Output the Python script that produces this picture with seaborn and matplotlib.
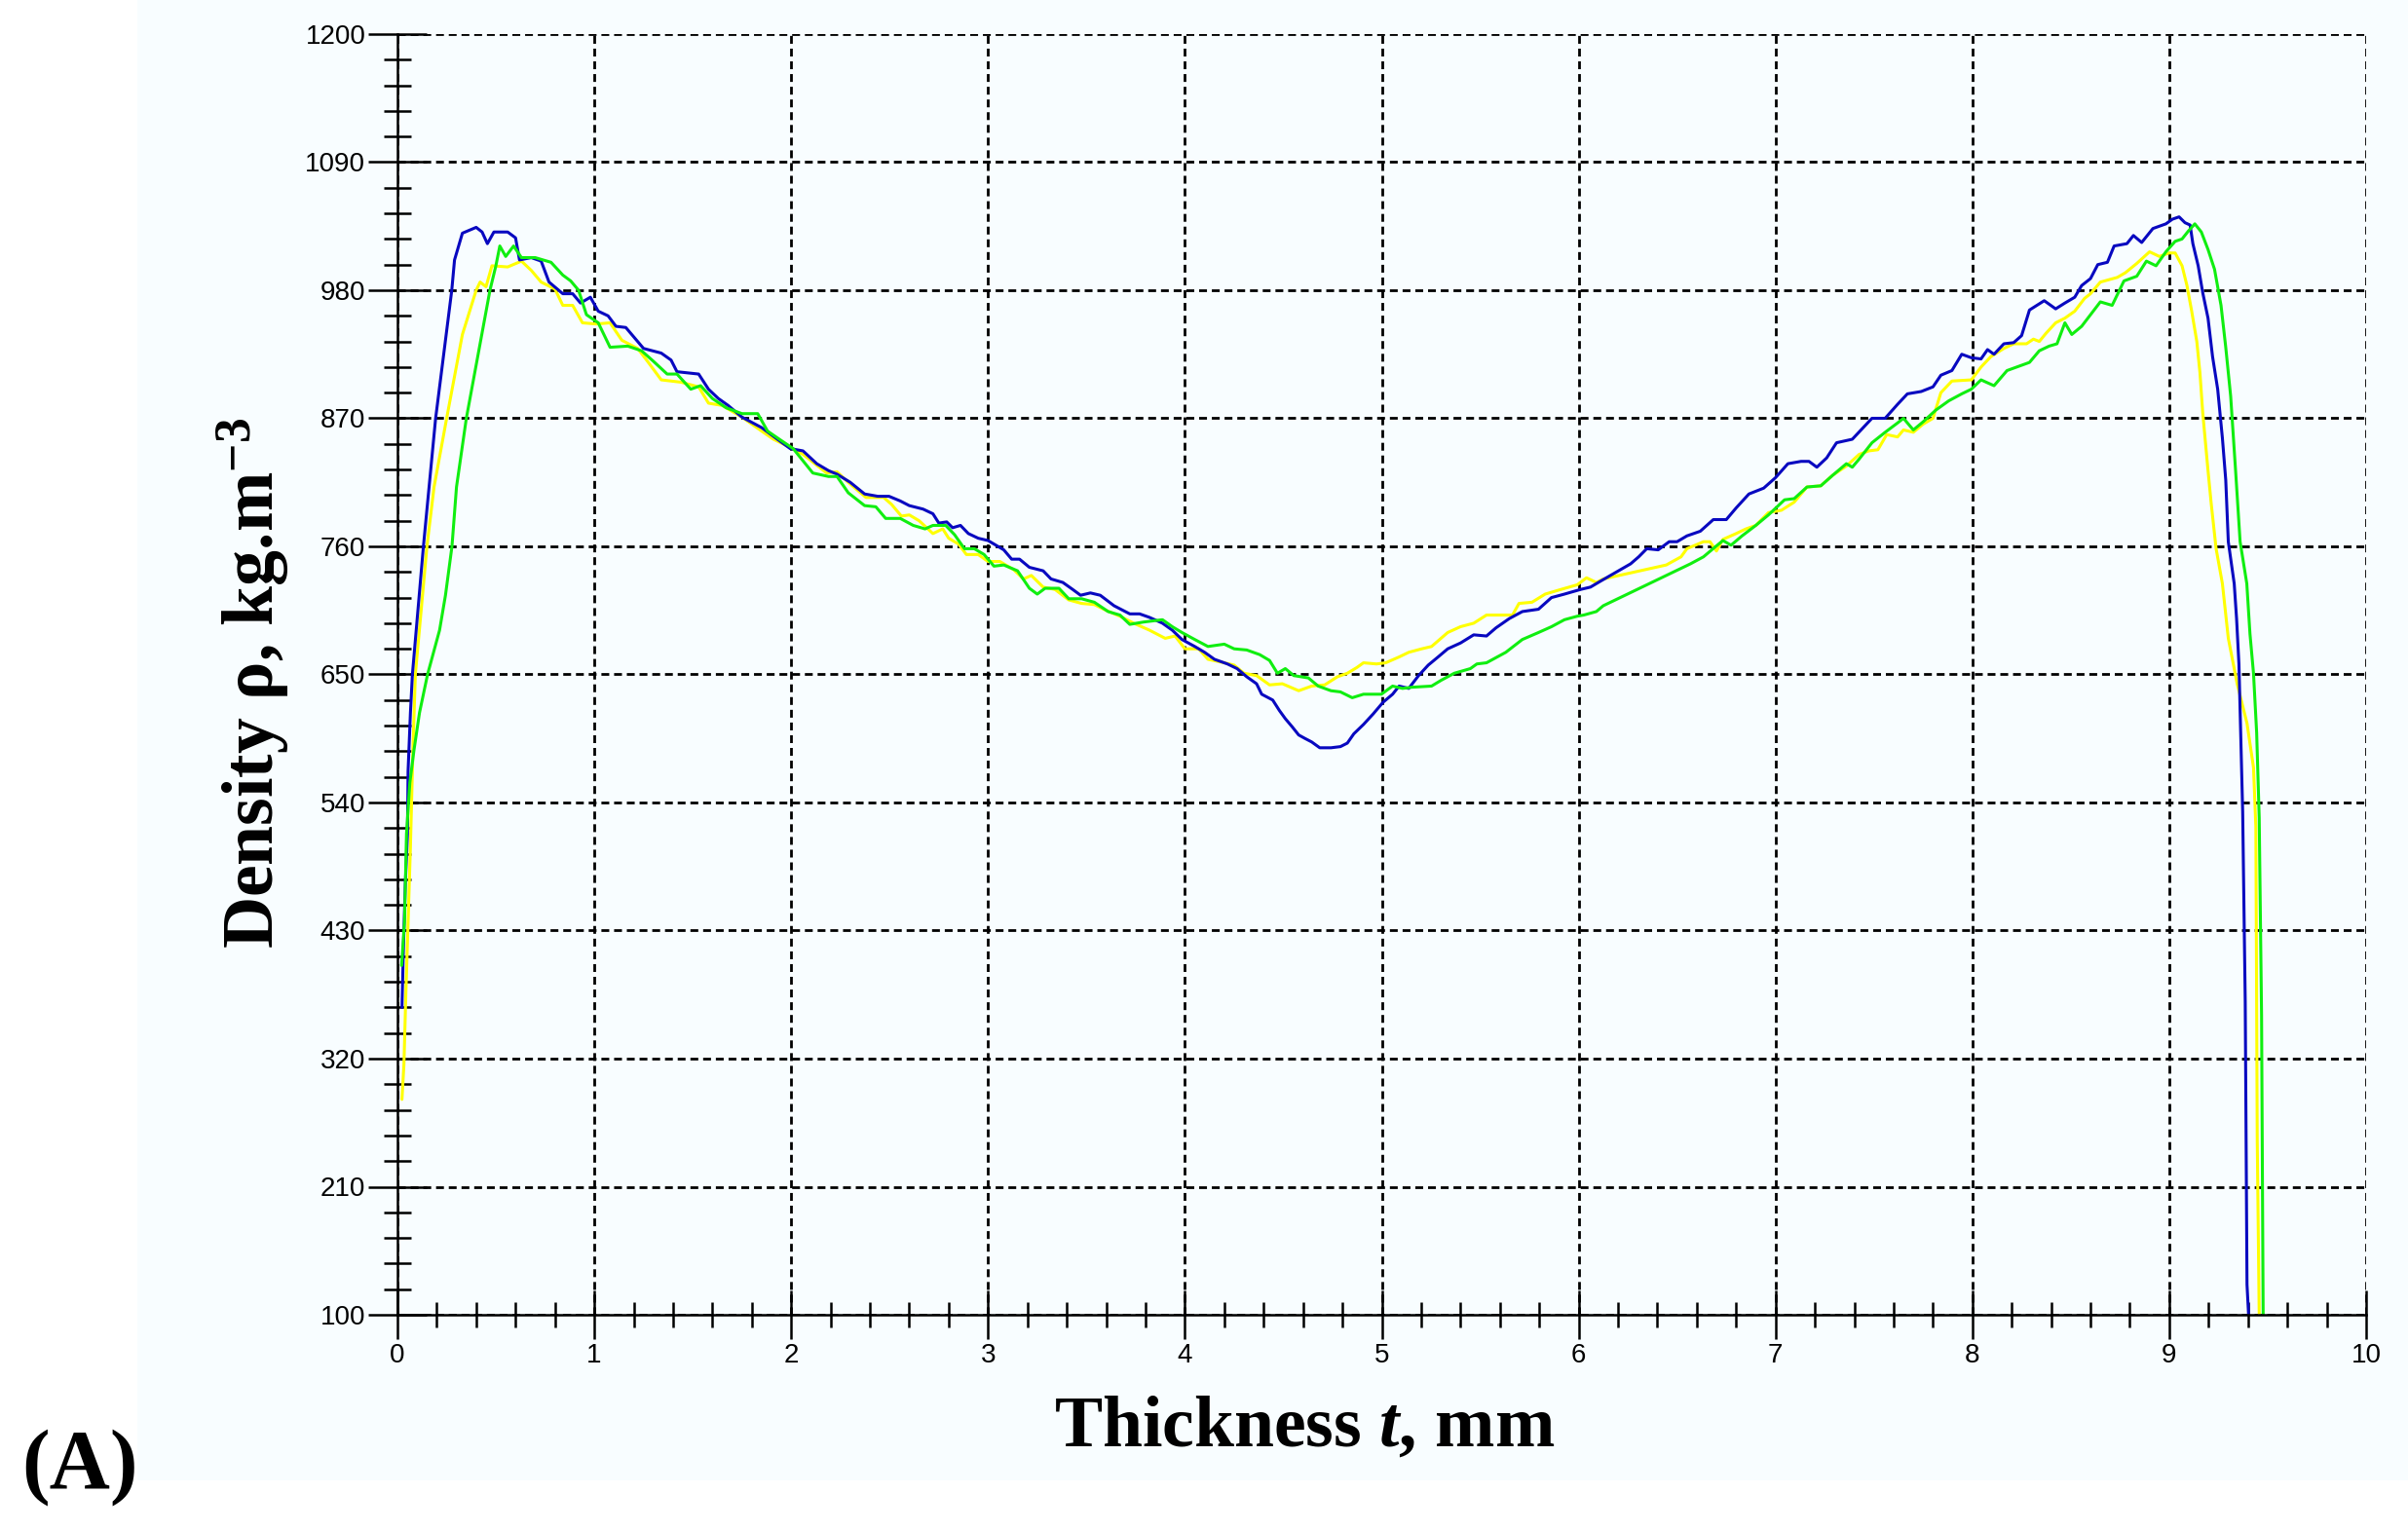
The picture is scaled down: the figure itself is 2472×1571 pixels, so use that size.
import numpy as np
import pandas as pd
import matplotlib
matplotlib.use("Agg")
import matplotlib.pyplot as plt
from matplotlib.patches import Rectangle
from matplotlib.ticker import FixedLocator
import seaborn as sns

sns.set_style("ticks")
plt.rcParams["font.family"] = ["Liberation Sans Narrow", "Liberation Sans", "DejaVu Sans"]
plt.rcParams["text.color"] = "black"
plt.rcParams["axes.labelcolor"] = "black"
plt.rcParams["xtick.color"] = "black"
plt.rcParams["ytick.color"] = "black"
plt.rcParams["mathtext.fontset"] = "custom"
plt.rcParams["mathtext.rm"] = "Liberation Serif:bold"
plt.rcParams["mathtext.bf"] = "Liberation Serif:bold"
plt.rcParams["mathtext.it"] = "Liberation Serif:bold:italic"

# density profiles (thickness in mm, density in kg/m3)
blue_t = [0.023, 0.030, 0.040, 0.051, 0.054, 0.066, 0.076, 0.132, 0.161, 0.194, 0.276, 0.29, 0.33, 0.40, 0.43,
          0.457, 0.49, 0.56, 0.60, 0.62, 0.68, 0.73, 0.77, 0.84, 0.89, 0.93, 0.98, 1.02, 1.07, 1.11, 1.16, 1.19,
          1.25, 1.34, 1.39, 1.42, 1.53, 1.58, 1.63, 1.68, 1.75, 1.85, 1.93, 1.995, 2.06, 2.13, 2.19, 2.233, 2.30,
          2.373, 2.44, 2.497, 2.554, 2.60, 2.67, 2.72, 2.75, 2.79, 2.82, 2.86, 2.90, 2.95, 3.0, 3.03, 3.08, 3.12,
          3.16, 3.21, 3.28, 3.32, 3.38, 3.43, 3.47, 3.52, 3.57, 3.64, 3.72, 3.77, 3.82, 3.886, 3.936, 3.985, 4.05,
          4.10, 4.15, 4.216, 4.265, 4.314, 4.364, 4.39, 4.446, 4.48, 4.51, 4.545, 4.578, 4.61, 4.644, 4.685,
          4.742, 4.79, 4.825, 4.858, 4.907, 4.956, 5.006, 5.055, 5.088, 5.137, 5.187, 5.236, 5.286, 5.335, 5.40,
          5.467, 5.532, 5.58, 5.648, 5.714, 5.796, 5.862, 5.928, 6.01, 6.06, 6.11, 6.264, 6.305, 6.346, 6.404,
          6.46, 6.50, 6.55, 6.618, 6.684, 6.75, 6.80, 6.865, 6.94, 7.0, 7.063, 7.13, 7.17, 7.21, 7.26, 7.31, 7.39,
          7.44, 7.49, 7.557, 7.62, 7.67, 7.74, 7.80, 7.84, 7.896, 7.946, 7.995, 8.044, 8.077, 8.11, 8.16, 8.21,
          8.25, 8.29, 8.365, 8.423, 8.47, 8.52, 8.555, 8.60, 8.637, 8.686, 8.72, 8.785, 8.818, 8.86, 8.917,
          8.983, 9.016, 9.05, 9.08, 9.106, 9.12, 9.147, 9.17, 9.197, 9.22, 9.246, 9.27, 9.287, 9.30, 9.33,
          9.342, 9.354, 9.362, 9.373, 9.386, 9.395, 9.403]
blue_rho = [364, 412, 470, 513, 567, 617, 650, 760, 811, 870, 980, 1006, 1029, 1034, 1030,
            1020, 1030, 1030, 1025, 1006, 1008, 1005, 987, 977, 977, 969, 974, 962, 958, 949, 948, 942,
            930, 926, 920, 910, 908, 895, 887, 881, 871, 862, 852, 844, 842, 831, 825, 822, 815,
            805, 803, 803, 799, 795, 792, 788, 780, 781, 776, 778, 771, 767, 765, 762, 757, 749,
            749, 742, 739, 732, 729, 723, 718, 720, 718, 709, 702, 702, 699, 694, 688, 680, 674,
            669, 663, 659, 655, 648, 642, 633, 628, 619, 612, 605, 598, 595, 592, 587,
            587, 588, 591, 599, 607, 616, 626, 633, 640, 638, 649, 658, 665, 672, 677,
            684, 683, 690, 698, 704, 706, 716, 719, 723, 725, 730, 745, 751, 758, 757,
            764, 764, 769, 773, 783, 783, 793, 805, 810, 819, 831, 833, 833, 828, 836, 849, 852,
            861, 870, 870, 882, 891, 893, 897, 907, 911, 925, 922, 921, 929, 925, 934, 935,
            941, 963, 971, 964, 969, 974, 984, 990, 1002, 1004, 1018, 1020, 1027, 1021, 1033,
            1037, 1041, 1043, 1038, 1036, 1020, 1001, 978, 956, 923, 895, 853, 817, 764, 728,
            698, 659, 604, 532, 369, 126, 100]

yellow_t = [0.023, 0.033, 0.043, 0.054, 0.066, 0.079, 0.091, 0.150, 0.186, 0.25, 0.33, 0.40, 0.42, 0.45, 0.48,
            0.56, 0.63, 0.68, 0.73, 0.80, 0.84, 0.89, 0.94, 1.01, 1.08, 1.14, 1.22, 1.27, 1.34, 1.44, 1.53,
            1.58, 1.65, 1.75, 1.85, 1.91, 1.995, 2.06, 2.18, 2.233, 2.29, 2.38, 2.47, 2.51, 2.56, 2.60, 2.65,
            2.72, 2.77, 2.80, 2.85, 2.89, 2.95, 3.0, 3.06, 3.13, 3.18, 3.22, 3.28, 3.34, 3.41, 3.475, 3.54,
            3.60, 3.67, 3.74, 3.82, 3.90, 3.95, 4.0, 4.07, 4.117, 4.2, 4.25, 4.30, 4.364, 4.43, 4.495, 4.578,
            4.644, 4.71, 4.775, 4.825, 4.874, 4.907, 4.973, 5.02, 5.088, 5.137, 5.203, 5.253, 5.335, 5.40,
            5.467, 5.532, 5.664, 5.697, 5.763, 5.83, 5.91, 5.993, 6.04, 6.09, 6.125, 6.445, 6.52, 6.55, 6.634,
            6.667, 6.70, 6.733, 6.80, 6.85, 6.90, 6.964, 7.03, 7.095, 7.16, 7.23, 7.29, 7.36, 7.425, 7.474,
            7.52, 7.565, 7.62, 7.65, 7.70, 7.75, 7.80, 7.84, 7.896, 7.995, 8.044, 8.094, 8.16, 8.21, 8.275,
            8.31, 8.34, 8.374, 8.423, 8.47, 8.52, 8.57, 8.60, 8.65, 8.736, 8.777, 8.835, 8.90, 8.95, 9.0,
            9.03, 9.065, 9.09, 9.114, 9.14, 9.156, 9.17, 9.197, 9.213, 9.238, 9.27, 9.30, 9.345, 9.395,
            9.428, 9.44, 9.447, 9.457]
yellow_rho = [285, 315, 377, 438, 502, 587, 650, 760, 811, 870, 942, 980, 987, 983, 1001,
              1000, 1005, 997, 987, 981, 967, 967, 952, 951, 952, 937, 930, 919, 903, 901, 897,
              883, 881, 871, 859, 852, 845, 839, 823, 824, 815, 802, 802, 796, 786, 787, 782,
              771, 775, 767, 762, 753, 753, 747, 747, 740, 732, 735, 725, 723, 714, 711, 710,
              705, 700, 694, 688, 681, 683, 672, 672, 663, 660, 658, 651, 649, 641, 642, 636,
              640, 641, 648, 651, 656, 660, 659, 660, 665, 669, 672, 674, 686, 691,
              694, 701, 701, 711, 712, 719, 723, 727, 733, 729, 732, 744, 751, 758, 764,
              764, 756, 766, 771, 775, 778, 789, 791, 798, 811, 812, 821, 829, 839, 842,
              843, 856, 854, 860, 858, 865, 870, 892, 902, 903, 914, 923, 930, 934, 934,
              938, 936, 943, 952, 956, 962, 973, 977, 987, 991, 995, 1003, 1013, 1009, 1012,
              1012, 1001, 984, 962, 936, 909, 875, 825, 797, 758, 728, 681, 642, 608,
              570, 519, 250, 100]

green_t = [0.021, 0.036, 0.046, 0.063, 0.084, 0.112, 0.153, 0.214, 0.244, 0.277, 0.30, 0.35, 0.47, 0.50, 0.52,
           0.55, 0.59, 0.63, 0.70, 0.78, 0.84, 0.88, 0.92, 0.96, 1.02, 1.08, 1.17, 1.24, 1.30, 1.37, 1.42,
           1.49, 1.54, 1.60, 1.67, 1.75, 1.83, 1.88, 1.94, 2.01, 2.11, 2.19, 2.233, 2.29, 2.373, 2.43, 2.48,
           2.554, 2.62, 2.68, 2.72, 2.785, 2.83, 2.88, 2.93, 2.98, 3.03, 3.08, 3.15, 3.21, 3.25, 3.29, 3.36,
           3.41, 3.475, 3.54, 3.61, 3.67, 3.72, 3.79, 3.886, 3.936, 3.985, 4.05, 4.117, 4.2, 4.25, 4.314,
           4.38, 4.43, 4.47, 4.51, 4.553, 4.627, 4.677, 4.742, 4.79, 4.85, 4.907, 4.998, 5.055, 5.105, 5.154,
           5.253, 5.302, 5.368, 5.45, 5.483, 5.532, 5.63, 5.714, 5.796, 5.862, 5.928, 5.993, 6.026, 6.09,
           6.125, 6.568, 6.634, 6.69, 6.733, 6.774, 6.83, 6.90, 6.964, 7.046, 7.095, 7.16, 7.23, 7.29, 7.36,
           7.39, 7.425, 7.49, 7.557, 7.62, 7.65, 7.70, 7.75, 7.814, 7.88, 7.946, 7.995, 8.044, 8.11, 8.176,
           8.225, 8.29, 8.34, 8.39, 8.43, 8.47, 8.505, 8.555, 8.60, 8.65, 8.71, 8.77, 8.835, 8.884, 8.933,
           8.983, 9.03, 9.065, 9.098, 9.13, 9.163, 9.197, 9.23, 9.263, 9.287, 9.312, 9.337, 9.36, 9.394,
           9.41, 9.428, 9.444, 9.457, 9.469, 9.477]
green_rho = [400, 438, 513, 557, 585, 617, 650, 688, 718, 760, 811, 870, 980, 1001, 1018,
             1009, 1018, 1008, 1008, 1004, 993, 988, 980, 959, 952, 931, 932, 928, 919, 908, 908,
             895, 898, 887, 879, 874, 874, 859, 852, 844, 823, 820, 820, 806, 795, 794, 784,
             784, 778, 775, 778, 778, 770, 758, 758, 753, 743, 744, 739, 724, 719, 724, 724,
             715, 715, 712, 704, 701, 693, 695, 697, 691, 686, 680, 674, 676, 672, 671,
             667, 662, 651, 655, 649, 647, 640, 636, 635, 630, 633, 633, 640, 638, 639,
             640, 645, 651, 655, 659, 660, 669, 680, 686, 691, 697, 700, 701, 704,
             709, 745, 751, 759, 765, 761, 769, 778, 787, 800, 801, 811, 812, 821, 831,
             828, 835, 849, 858, 866, 870, 860, 867, 877, 885, 891, 895, 903, 898, 911,
             914, 918, 928, 932, 934, 952, 942, 949, 959, 970, 967, 988, 992, 1005, 1001,
             1013, 1022, 1024, 1031, 1037, 1030, 1015, 998, 967, 931, 889, 825, 764, 728,
             685, 651, 600, 527, 357, 100]

x_major = list(range(0, 11))
y_major = list(range(100, 1201, 110))

fig = plt.figure(figsize=(24.72, 15.71), dpi=100, facecolor="white")
# faint tinted panel behind the plot, as in the scanned figure
fig.patches.append(Rectangle((141 / 2472, 1 - 1520 / 1571), 1, 1, transform=fig.transFigure,
                             facecolor="#F8FDFF", edgecolor="none", zorder=-10))
ax = fig.add_axes([408 / 2472, 1 - 1350 / 1571, 2021 / 2472, 1315 / 1571])
ax.set_facecolor("none")
ax.set_zorder(5)

for t, rho, col in [(yellow_t, yellow_rho, "#FFFF00"), (blue_t, blue_rho, "#0808C0"),
                    (green_t, green_rho, "#10EE10")]:
    df = pd.DataFrame({"t": t, "rho": rho})
    sns.lineplot(data=df, x="t", y="rho", color=col, linewidth=2.2, estimator=None, ax=ax)

ax.set_xlim(0, 10)
ax.set_ylim(100, 1200)
ax.set_xticks(x_major)
ax.set_yticks(y_major)
ax.xaxis.set_minor_locator(FixedLocator(np.arange(0, 10.01, 0.2)))
ax.yaxis.set_minor_locator(FixedLocator(np.arange(100, 1201, 22)))

ax.tick_params(axis="y", which="major", direction="inout", length=43, width=1.8, pad=2, labelsize=20)
ax.tick_params(axis="y", which="minor", direction="inout", length=19.5, width=1.8)
ax.tick_params(axis="x", which="major", direction="inout", length=36, width=1.8, pad=3, labelsize=20)
ax.tick_params(axis="x", which="minor", direction="inout", length=19, width=1.8)

ax.grid(True, which="major", color="black", linestyle=(0, (2.9, 1.8)), linewidth=2)
ax.set_axisbelow(True)
for s in ["top", "right"]:
    ax.spines[s].set_visible(False)
for s in ["left", "bottom"]:
    ax.spines[s].set_linewidth(1.8)
    ax.spines[s].set_color("black")

ax.set_xlabel("Thickness $t$, mm", fontsize=53, fontweight="bold", family="Liberation Serif")
ax.set_ylabel("Density ρ, kg.m$^{\\mathregular{-3}}$", fontsize=53, fontweight="bold",
              family="Liberation Serif")
ax.xaxis.label.set_va("baseline")
ax.xaxis.set_label_coords(0.4607, -0.1027)
ax.yaxis.label.set_va("baseline")
ax.yaxis.set_label_coords(-0.0628, 0.493)

fig.text(0.033, 1 - 1527 / 1571, "(A)", fontsize=62, fontweight="bold", family="Liberation Serif",
         color="black", ha="center", va="baseline")

fig.savefig("out.png", dpi=100)
